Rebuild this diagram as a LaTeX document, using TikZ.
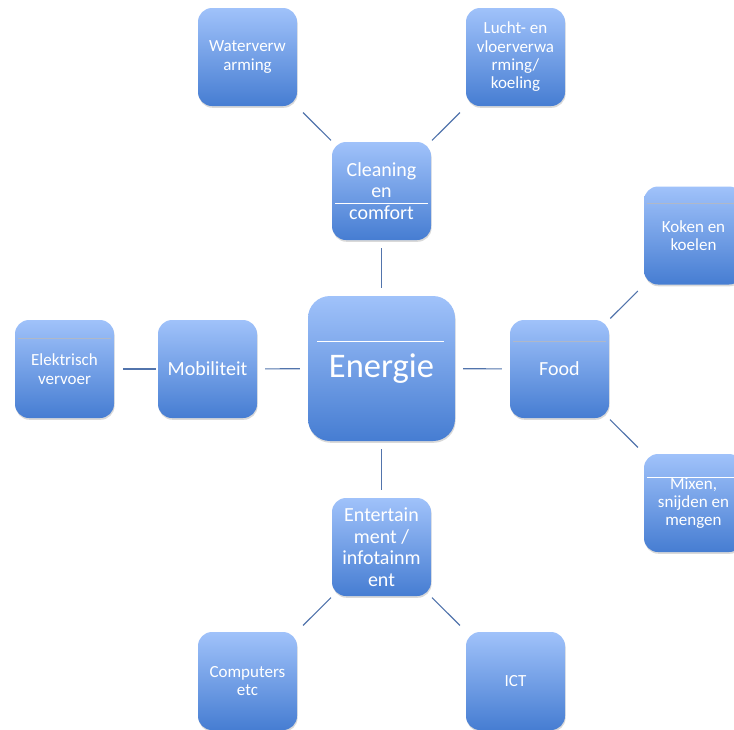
\documentclass[tikz,border=0pt]{standalone}
\usepackage{fontspec}
\setmainfont{Carlito}
\usetikzlibrary{shadows}

\definecolor{boxtop}{RGB}{160,194,250}
\definecolor{boxbottom}{RGB}{70,125,210}
\definecolor{linkblue}{RGB}{82,116,172}
\definecolor{glintgray}{RGB}{176,184,200}

\newcommand{\hubfont}{\fontsize{34.5}{40}\selectfont}
\newcommand{\midfont}{\fontsize{20}{21.5}\selectfont}
\newcommand{\leaffont}{\fontsize{17}{18.3}\selectfont}

\begin{document}
\begin{tikzpicture}[x=1pt, y=-1pt,
    nodebox/.style={rounded corners=14pt, top color=boxtop, bottom color=boxbottom,
        text=white, align=center, inner sep=0pt,
        minimum width=99pt, minimum height=98pt,
        drop shadow={shadow xshift=0.6pt, shadow yshift=-1.8pt, opacity=0.3}},
    hubbox/.style={nodebox, rounded corners=22pt, minimum width=147pt, minimum height=145pt, font=\hubfont},
    midbox/.style={nodebox, font=\midfont},
    leafbox/.style={nodebox, font=\leaffont},
    link/.style={draw=linkblue, line width=1.1pt, shorten <=8pt, shorten >=8pt},
    leaflink/.style={link, shorten <=2pt, shorten >=9pt},
    glint/.style={draw=#1, line width=0.8pt, shorten <=3pt, shorten >=3pt}]

    \useasboundingbox (0,0) rectangle (734,729);

    % Centre
    \node[hubbox] (energie) at (381.5,368.5) {Energie};

    % Second ring
    \node[midbox] (cleaning) at (381.5,191) {Cleaning\\en\\comfort};
    \node[midbox] (mobiliteit) at (207.5,369) {Mobiliteit};
    \node[midbox] (food) at (559.5,369) {Food};
    \node[midbox] (entertainment) at (381.5,547) {Entertain\\ment /\\infotainm\\ent};

    % Leaves
    \node[leafbox] (waterverwarming) at (247.5,57) {Waterverw\\arming};
    \node[leafbox] (luchtvloer) at (515.5,57) {Lucht- en\\vloerverwa\\rming/\\koeling};
    \node[leafbox] (kokenkoelen) at (693.5,235.5) {Koken en\\koelen};
    \node[leafbox] (mixen) at (693.5,503) {Mixen,\\snijden en\\mengen};
    \node[leafbox] (elektrisch) at (64.5,369) {Elektrisch\\vervoer};
    \node[leafbox] (computers) at (247.5,681) {Computers\\etc};
    \node[leafbox] (ict) at (515.5,681) {ICT};

    % Glossy lines
    \draw[glint=white, shorten <=9pt, shorten >=11pt] ([yshift=-46pt]energie.north west) -- ([yshift=-46pt]energie.north east);
    \draw[glint=white] ([yshift=-62pt]cleaning.north west) -- ([yshift=-62pt]cleaning.north east);
    \draw[glint=white] ([yshift=-24pt]mixen.north west) -- ([yshift=-24pt]mixen.north east);
    \draw[glint=glintgray] ([yshift=-19pt]elektrisch.north west) -- ([yshift=-19pt]elektrisch.north east);
    \draw[glint=glintgray] ([yshift=-22pt]food.north west) -- ([yshift=-22pt]food.north east);
    \draw[glint=glintgray] ([yshift=-17pt]kokenkoelen.north west) -- ([yshift=-17pt]kokenkoelen.north east);

    % Connectors
    \draw[link] (energie) -- (cleaning);
    \draw[link] (energie) -- (mobiliteit);
    \draw[link] (energie) -- (food);
    \draw[link] (energie) -- (entertainment);
    \draw[leaflink] (cleaning) -- (waterverwarming);
    \draw[leaflink] (cleaning) -- (luchtvloer);
    \draw[leaflink] (food) -- (kokenkoelen);
    \draw[leaflink] (food) -- (mixen);
    \draw[leaflink] (mobiliteit) -- (elektrisch);
    \draw[leaflink] (entertainment) -- (computers);
    \draw[leaflink] (entertainment) -- (ict);
\end{tikzpicture}
\end{document}
